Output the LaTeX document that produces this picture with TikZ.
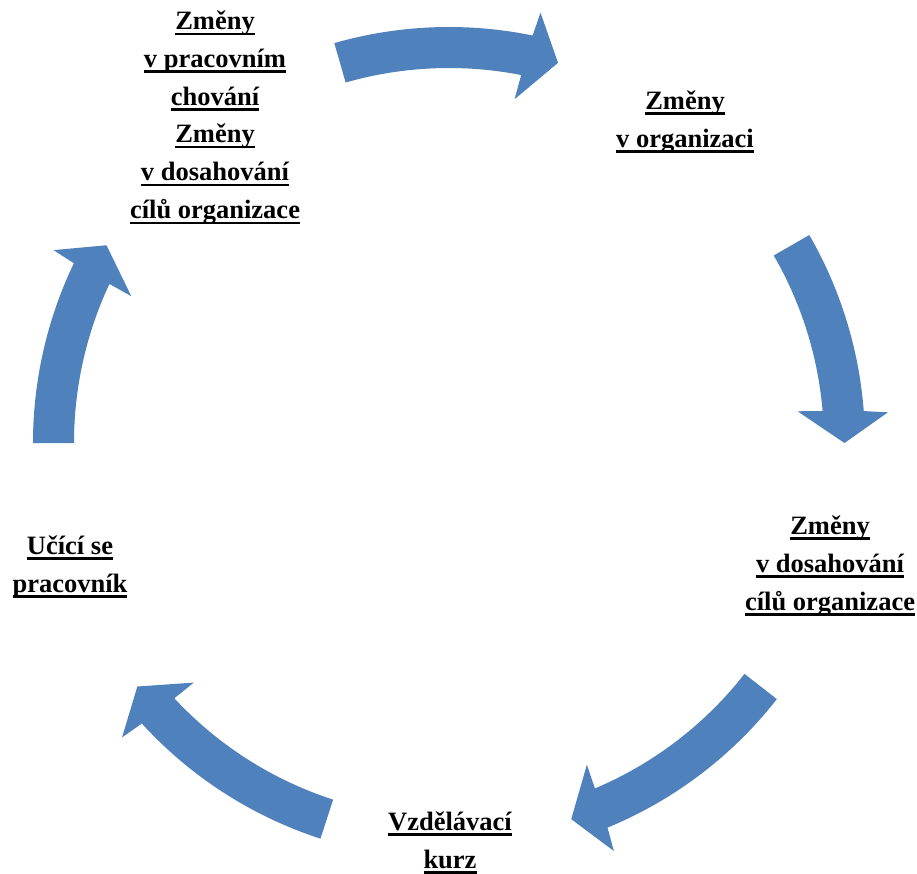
\documentclass[tikz,border=0pt]{standalone}
\usepackage{fontspec}
\setmainfont{Liberation Serif}
\definecolor{cyclearrow}{HTML}{4F81BD}
% underlined text with a fixed rule position below the baseline
\newsavebox\ulbox
\newcommand\ulx[1]{\sbox\ulbox{#1}\rlap{\rule[-5.5pt]{\wd\ulbox}{2.5pt}}\usebox\ulbox}
% curved block arrow on the cycle circle, running clockwise
% #1 = angle of the tail, #2 = angle of the tip
\newcommand\cycarrow[2]{%
  \fill[cyc] (#1:416) arc[start angle=#1, end angle=#2+4.4, radius=416]
    -- (#2+4.0:440) -- (#2:395.5) -- (#2+5.2:350) -- (#2+4.9:375)
    arc[start angle=#2+4.9, end angle=#1, radius=375] -- cycle;}
\begin{document}
\begin{tikzpicture}[x=1pt,y=-1pt,
  txtnode/.style={align=center, anchor=base, inner sep=0pt,
    font=\fontsize{26.5}{37.8}\selectfont\bfseries},
  cyc/.style={fill=cyclearrow, draw=none}]
\useasboundingbox (0,0) rectangle (917,873);

% stages of the cycle (positions give the baseline of the last line)
\node[txtnode] (tl) at (215,218.5)
  {\ulx{Změny}\\\ulx{v pracovním}\\\ulx{chování}\\\ulx{Změny}\\\ulx{v dosahování}\\\ulx{cílů organizace}};
\node[txtnode] (tr) at (685,147) {\ulx{Změny}\\\ulx{v organizaci}};
\node[txtnode] (rt) at (830,610) {\ulx{Změny}\\\ulx{v dosahování}\\\ulx{cílů organizace}};
\node[txtnode] (bt) at (450,868) {\ulx{Vzdělávací}\\\ulx{kurz}};
\node[txtnode] (lt) at (70,592) {\ulx{Učící se}\\\ulx{pracovník}};

% arrows around the circle
\begin{scope}[shift={(449,443)}, y=1pt]
  \cycarrow{106}{74}
  \cycarrow{30}{0}
  \cycarrow{-38}{-72}
  \cycarrow{-108}{-142}
  \cycarrow{180}{150}
\end{scope}
\end{tikzpicture}
\end{document}
